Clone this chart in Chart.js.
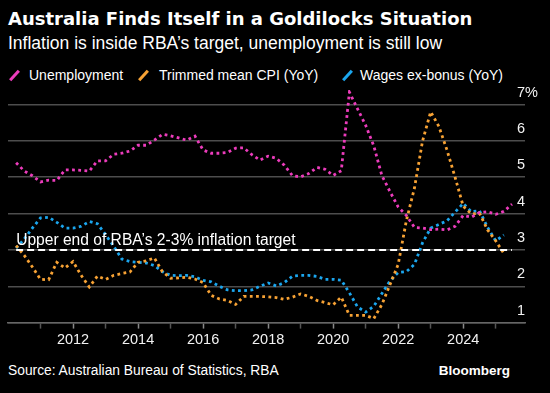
<!DOCTYPE html>
<html>
<head>
<meta charset="utf-8">
<script src="https://cdn.jsdelivr.net/npm/chart.js@4/dist/chart.umd.min.js"></script>
<style>
  html, body { margin: 0; padding: 0; background: #000; }
  body { width: 550px; height: 393px; position: relative; overflow: hidden; color: #fff; font-family: "Liberation Sans", Arial, sans-serif; }
  #title { position: absolute; left: 8px; top: 8px; font-family: "DejaVu Sans", sans-serif; font-weight: bold; font-size: 18px; white-space: nowrap; }
  #subtitle { position: absolute; left: 8px; top: 33px; font-size: 17.5px; white-space: nowrap; }
  .legend { position: absolute; top: 67px; font-size: 14px; white-space: nowrap; }
  .swatch { position: absolute; top: 69px; width: 3px; height: 13px; transform: rotate(42deg); }
  #source { position: absolute; left: 8px; top: 363px; font-size: 13.8px; }
  #brand { position: absolute; right: 40px; top: 363px; font-size: 13.5px; font-weight: bold; }
  #wrap { position: absolute; left: 0; top: 84px; width: 550px; height: 270px; }
</style>
</head>
<body>
<div id="title">Australia Finds Itself in a Goldilocks Situation</div>
<div id="subtitle">Inflation is inside RBA’s target, unemployment is still low</div>
<div class="swatch" style="left:13px;background:#ec3cbc"></div>
<div class="legend" style="left:29px">Unemployment</div>
<div class="swatch" style="left:142px;background:#f7a234"></div>
<div class="legend" style="left:159px">Trimmed mean CPI (YoY)</div>
<div class="swatch" style="left:346px;background:#1ba6ee"></div>
<div class="legend" style="left:360px">Wages ex-bonus (YoY)</div>
<div id="wrap"><canvas id="chart"></canvas></div>
<div id="source">Source: Australian Bureau of Statistics, RBA</div>
<div id="brand">Bloomberg</div>
<script>
const quarters = [
  "2010Q1","2010Q2","2010Q3","2010Q4","2011Q1","2011Q2","2011Q3","2011Q4",
  "2012Q1","2012Q2","2012Q3","2012Q4","2013Q1","2013Q2","2013Q3","2013Q4",
  "2014Q1","2014Q2","2014Q3","2014Q4","2015Q1","2015Q2","2015Q3","2015Q4",
  "2016Q1","2016Q2","2016Q3","2016Q4","2017Q1","2017Q2","2017Q3","2017Q4",
  "2018Q1","2018Q2","2018Q3","2018Q4","2019Q1","2019Q2","2019Q3","2019Q4",
  "2020Q1","2020Q2","2020Q3","2020Q4","2021Q1","2021Q2","2021Q3","2021Q4",
  "2022Q1","2022Q2","2022Q3","2022Q4","2023Q1","2023Q2","2023Q3","2023Q4",
  "2024Q1","2024Q2","2024Q3","2024Q4","2025Q1","2025Q2"
];

const unemployment = [
  5.40, 5.17, 5.04, 4.87, 4.92, 4.91, 5.20, 5.20,
  5.19, 5.17, 5.45, 5.45, 5.63, 5.66, 5.72, 5.88,
  5.88, 6.02, 6.18, 6.14, 6.08, 6.02, 6.13, 5.75,
  5.66, 5.66, 5.68, 5.80, 5.81, 5.62, 5.47, 5.58,
  5.52, 5.33, 5.04, 5.01, 5.10, 5.27, 5.22, 5.05,
  5.18, 7.34, 6.88, 6.43, 5.86, 5.04, 4.60, 4.18,
  3.95, 3.62, 3.60, 3.56, 3.57, 3.55, 3.65, 3.95,
  3.90, 4.03, 4.05, 3.98, 4.06, 4.26
];

const trimmedMeanCpi = [
  3.12, 2.85, 2.53, 2.19, 2.18, 2.66, 2.50, 2.68,
  2.30, 1.98, 2.28, 2.19, 2.30, 2.35, 2.39, 2.66,
  2.70, 2.78, 2.40, 2.22, 2.23, 2.25, 2.20, 2.10,
  1.75, 1.65, 1.61, 1.50, 1.72, 1.72, 1.72, 1.71,
  1.69, 1.64, 1.70, 1.79, 1.72, 1.61, 1.55, 1.49,
  1.70, 1.20, 1.20, 1.20, 1.11, 1.50, 2.05, 2.60,
  3.80, 4.70, 6.00, 6.80, 6.40, 5.75, 5.00, 4.20,
  3.99, 4.01, 3.55, 3.25, 2.90
];

const wagesExBonus = [
  3.05, 3.30, 3.60, 3.88, 3.90, 3.76, 3.60, 3.60,
  3.65, 3.78, 3.72, 3.42, 3.10, 2.75, 2.68, 2.66,
  2.64, 2.57, 2.40, 2.30, 2.29, 2.30, 2.26, 2.16,
  2.12, 2.00, 1.90, 1.88, 1.88, 1.90, 2.00, 2.09,
  2.01, 2.10, 2.28, 2.30, 2.30, 2.27, 2.19, 2.19,
  2.17, 1.82, 1.43, 1.29, 1.45, 1.80, 2.15, 2.38,
  2.40, 2.60, 3.20, 3.60, 3.70, 3.80, 4.04, 4.28,
  4.05, 4.08, 3.62, 3.25, 3.41
];

const targetLevel = 3;
const targetLabel = "Upper end of RBA’s 2-3% inflation target";
const yTickValues = [1, 2, 3, 4, 5, 6, 7];
const xTickYears = [2011, 2012, 2013, 2014, 2015, 2016, 2017, 2018, 2019, 2020, 2021, 2022, 2023, 2024, 2025];

// quarter end as decimal year: 2010Q1 -> 2010.25
function quarterToYear(q) {
  return parseInt(q.slice(0, 4)) + parseInt(q.slice(5)) / 4;
}

function toPoints(values) {
  return values.map((v, i) => ({ x: quarterToYear(quarters[i]), y: v }));
}

const targetPoints = [
  { x: quarterToYear(quarters[0]), y: targetLevel },
  { x: quarterToYear(quarters[quarters.length - 1]), y: targetLevel }
];

function dotted(label, values, color) {
  return {
    label,
    data: toPoints(values),
    borderColor: color,
    borderWidth: 2.8,
    borderDash: [2.8, 3.4],
    pointRadius: 0,
    tension: 0,
    fill: false
  };
}

const targetText = {
  id: "targetText",
  afterDatasetsDraw(chart) {
    const { ctx, scales } = chart;
    const x = scales.x.getPixelForValue(targetPoints[0].x);
    const y = scales.y.getPixelForValue(targetLevel) - 5;
    ctx.save();
    ctx.font = "15.6px 'Liberation Sans', Arial, sans-serif";
    ctx.fillStyle = "#fff";
    ctx.textBaseline = "alphabetic";
    ctx.fillText(targetLabel, x, y);
    ctx.restore();
  }
};

const gridColor = "#4d4d4d";

new Chart(document.getElementById("chart"), {
  type: "line",
  data: {
    datasets: [
      {
        label: "target",
        data: targetPoints,
        borderColor: "#ffffff",
        borderWidth: 2,
        borderDash: [7, 4],
        pointRadius: 0
      },
      dotted("Unemployment", unemployment, "#ec3cbc"),
      dotted("Trimmed mean CPI (YoY)", trimmedMeanCpi, "#f7a234"),
      dotted("Wages ex-bonus (YoY)", wagesExBonus, "#1ba6ee")
    ]
  },
  options: {
    responsive: true,
    maintainAspectRatio: false,
    animation: false,
    layout: { padding: { left: 8, top: 6, right: 0, bottom: 2 } },
    plugins: {
      legend: { display: false },
      tooltip: { enabled: false }
    },
    scales: {
      x: {
        type: "linear",
        min: 2010,
        max: 2025.9,
        afterBuildTicks: scale => { scale.ticks = xTickYears.map(v => ({ value: v })); },
        grid: {
          drawOnChartArea: false,
          drawTicks: true,
          tickLength: 6,
          tickWidth: 1.5,
          // odd years get a fainter mark, like the short minor ticks
          tickColor: ctx => (ctx.tick && ctx.tick.value % 2 !== 0 ? "#555" : "#888")
        },
        border: { display: true, color: "#666", width: 1.5 },
        ticks: {
          color: "#f2f2f2",
          font: { family: "'Liberation Sans', Arial, sans-serif", size: 14.5 },
          padding: 3,
          maxRotation: 0,
          autoSkip: false,
          callback: v => (v % 2 === 0 ? String(v) : "")
        }
      },
      y: {
        position: "right",
        min: 1,
        max: 7.4,
        afterBuildTicks: scale => { scale.ticks = yTickValues.map(v => ({ value: v })); },
        afterFit: scale => {
          scale.width = 25;
          // let the labels sit over the ends of the gridlines
          scale._computeLabelArea = () => undefined;
        },
        grid: { color: gridColor, lineWidth: 1.5, drawTicks: false },
        border: { display: false },
        ticks: {
          color: "#f2f2f2",
          font: { family: "'Liberation Sans', Arial, sans-serif", size: 14.5 },
          padding: -8,
          labelOffset: -12,
          callback: v => (v === 7 ? "7%" : String(v))
        }
      }
    }
  },
  plugins: [targetText]
});
</script>
</body>
</html>
